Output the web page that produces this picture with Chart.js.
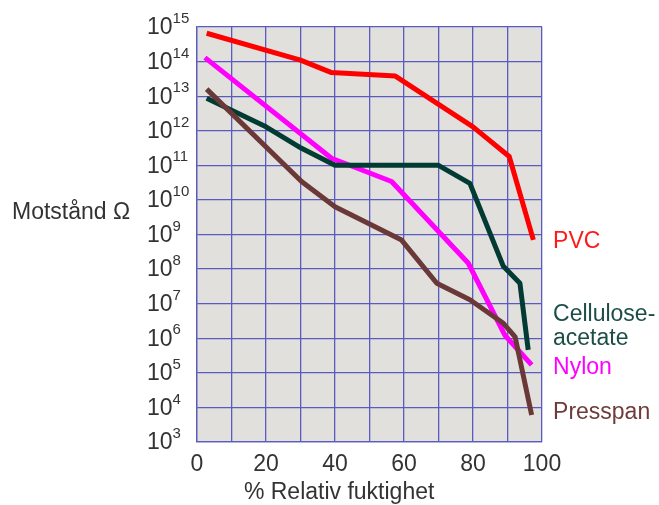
<!DOCTYPE html>
<html>
<head>
<meta charset="utf-8">
<script src="https://cdn.jsdelivr.net/npm/chart.js@4"></script>
<style>
    html, body { margin: 0; padding: 0; background: #ffffff; }
    #wrap { width: 659px; height: 505px; }
</style>
</head>
<body>
<div id="wrap"><canvas id="chart" width="659" height="505"></canvas></div>
<script>
// Resistance vs relative humidity
var humidityPVC = [2.8, 30, 39, 57.5, 80, 90.5, 97.5];
var resistancePVC = [6.6e14, 1.1e14, 4.8e13, 3.8e13, 1.3e12, 1.8e11, 7e8];

var humidityNylon = [2.3, 39, 56.4, 78.6, 89.3, 97];
var resistanceNylon = [1.3e14, 1.6e11, 3.4e10, 1.5e8, 1.2e6, 1.7e5];

var humidityCellulose = [2.8, 20, 30.3, 40, 70, 79.1, 88.8, 93.6, 96];
var resistanceCellulose = [8.7e12, 1.3e12, 3.1e11, 1e11, 1e11, 3e10, 1.2e8, 3.9e7, 4.6e5];

var humidityPresspan = [2.8, 30.3, 40, 59.3, 69.5, 79.1, 88.8, 92.2, 97];
var resistancePresspan = [1.6e13, 3.4e10, 6.3e9, 6.9e8, 3.9e7, 1.3e7, 2.7e6, 1.1e6, 6e3];

var yExponents = [3, 4, 5, 6, 7, 8, 9, 10, 11, 12, 13, 14, 15];
var xTickLabels = [0, 20, 40, 60, 80, 100];

var seriesNames = ["Presspan", "Cellulose-acetate", "Nylon", "PVC"];
var seriesColors = ["#6b3838", "#023b33", "#ff00ff", "#ff0000"];

var FONT = "'Liberation Sans', Arial, sans-serif";
var GRID = "#5a5ac0";
var TEXT = "#333333";

function toPoints(xs, ys) {
    return xs.map(function (x, i) { return { x: x, y: ys[i] }; });
}

function makeSet(name, color, xs, ys) {
    return {
        label: name,
        data: toPoints(xs, ys),
        borderColor: color,
        borderWidth: 5,
        pointRadius: 0,
        tension: 0,
        fill: false,
        borderJoinStyle: "round"
    };
}

// background of plot area
var plotBackground = {
    id: "plotBackground",
    beforeDraw: function (chart) {
        var a = chart.chartArea, ctx = chart.ctx;
        ctx.save();
        ctx.fillStyle = "#e1e0dd";
        ctx.fillRect(a.left, a.top, a.right - a.left, a.bottom - a.top);
        ctx.restore();
    }
};

// y tick labels as 10 with a superscript exponent, axis titles, series names
var annotations = {
    id: "annotations",
    afterDraw: function (chart) {
        var ctx = chart.ctx, y = chart.scales.y, x = chart.scales.x;
        ctx.save();
        ctx.fillStyle = TEXT;
        ctx.textBaseline = "middle";
        ctx.textAlign = "left";
        yExponents.forEach(function (e) {
            var py = y.getPixelForValue(Math.pow(10, e));
            ctx.font = "23px " + FONT;
            ctx.fillText("10", 147, py + 1);
            var w = ctx.measureText("10").width;
            ctx.font = "15px " + FONT;
            ctx.fillText(String(e), 147 + w, py - 8);
        });

        ctx.font = "23px " + FONT;
        ctx.fillText("Motstånd Ω", 12, y.getPixelForValue(Math.pow(10, 9.62)));

        ctx.textAlign = "center";
        ctx.fillText("% Relativ fuktighet", x.getPixelForValue(41.2), 493);

        ctx.textAlign = "left";
        var lx = x.getPixelForValue(103.2);
        var names = [
            { text: "PVC", color: "#ff1a1a", v: 8.78 },
            { text: "Cellulose-", color: "#1d4d47", v: 6.67 },
            { text: "acetate", color: "#1d4d47", v: 6.0 },
            { text: "Nylon", color: "#ff00ff", v: 5.14 },
            { text: "Presspan", color: "#6e3b3b", v: 3.84 }
        ];
        ctx.font = "23px " + FONT;
        names.forEach(function (n) {
            ctx.fillStyle = n.color;
            ctx.fillText(n.text, lx, y.getPixelForValue(Math.pow(10, n.v)));
        });
        ctx.restore();
    }
};

var datasets = [
    makeSet(seriesNames[0], seriesColors[0], humidityPresspan, resistancePresspan),
    makeSet(seriesNames[1], seriesColors[1], humidityCellulose, resistanceCellulose),
    makeSet(seriesNames[2], seriesColors[2], humidityNylon, resistanceNylon),
    makeSet(seriesNames[3], seriesColors[3], humidityPVC, resistancePVC)
];

new Chart(document.getElementById("chart"), {
    type: "line",
    data: { datasets: datasets },
    options: {
        responsive: false,
        animation: false,
        layout: { padding: { left: 197, right: 117, top: 27, bottom: 0 } },
        plugins: {
            legend: { display: false },
            tooltip: { enabled: false }
        },
        scales: {
            x: {
                type: "linear",
                min: 0,
                max: 100,
                afterBuildTicks: function (scale) {
                    var t = [];
                    for (var v = 0; v <= 100; v += 10) t.push({ value: v });
                    scale.ticks = t;
                },
                afterFit: function (scale) { scale.height = 63; },
                grid: { color: GRID, lineWidth: 1.3, drawTicks: false },
                border: { color: GRID, width: 1.3 },
                ticks: {
                    padding: 9,
                    color: TEXT,
                    font: { family: FONT, size: 23 },
                    maxRotation: 0,
                    autoSkip: false,
                    callback: function (v) {
                        return xTickLabels.indexOf(v) !== -1 ? String(v) : "";
                    }
                }
            },
            y: {
                type: "logarithmic",
                min: 1e3,
                max: 1e15,
                afterBuildTicks: function (scale) {
                    scale.ticks = yExponents.map(function (e) { return { value: Math.pow(10, e) }; });
                },
                grid: { color: GRID, lineWidth: 1.3, drawTicks: false },
                border: { color: GRID, width: 1.3 },
                ticks: { display: false }
            }
        }
    },
    plugins: [plotBackground, annotations]
});
</script>
</body>
</html>
